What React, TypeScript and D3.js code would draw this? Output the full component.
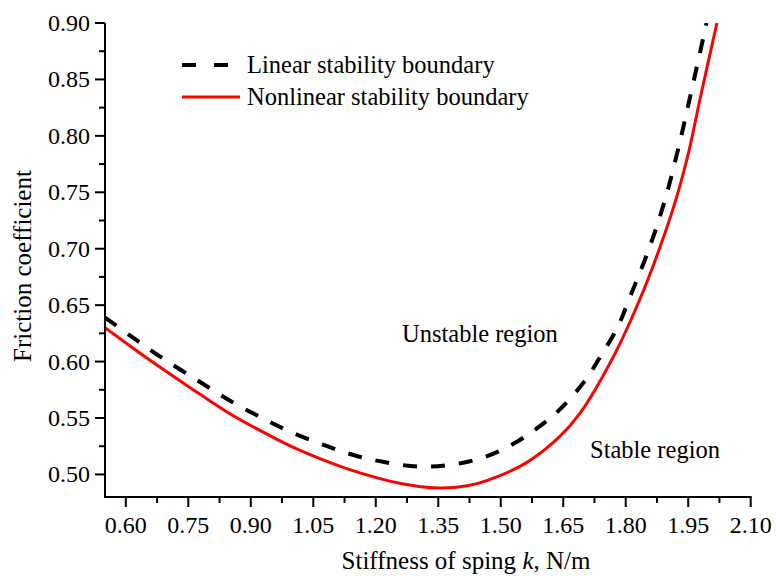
import React from "react";
import * as d3 from "d3";

// linear stability boundary (dashed)
const kLinear = [0.55, 0.62, 0.69, 0.78, 0.86, 0.93, 1.0, 1.08, 1.15, 1.22, 1.3, 1.37, 1.44, 1.51, 1.58, 1.64, 1.7, 1.74, 1.78, 1.81, 1.857, 1.894, 1.925, 1.953, 1.994];
const fLinear = [0.639, 0.6205, 0.6025, 0.5815, 0.5632, 0.5495, 0.537, 0.5255, 0.5168, 0.511, 0.507, 0.508, 0.513, 0.523, 0.539, 0.557, 0.582, 0.605, 0.63, 0.657, 0.701, 0.743, 0.787, 0.832, 0.9];

// nonlinear stability boundary (red)
const kNonlinear = [0.55, 0.63, 0.7, 0.78, 0.86, 0.94, 1.02, 1.13, 1.26, 1.35, 1.42, 1.47, 1.56, 1.64, 1.69, 1.77, 1.836, 1.882, 1.92, 1.952, 1.978, 2.019];
const fNonlinear = [0.63, 0.6085, 0.5905, 0.5705, 0.5515, 0.5355, 0.521, 0.5052, 0.492, 0.488, 0.49, 0.495, 0.51, 0.533, 0.554, 0.604, 0.657, 0.701, 0.743, 0.787, 0.832, 0.9];

const xTicks = [0.6, 0.75, 0.9, 1.05, 1.2, 1.35, 1.5, 1.65, 1.8, 1.95, 2.1];
const yTicks = [0.5, 0.55, 0.6, 0.65, 0.7, 0.75, 0.8, 0.85, 0.9];

const W = 776;
const H = 576;
const FONT = "'Liberation Serif', 'Times New Roman', serif";

const App = () => {
    const x = d3.scaleLinear().domain([0.55, 2.1]).range([105, 750.7]);
    const y = d3.scaleLinear().domain([0.48, 0.9]).range([497, 23]);

    const line = d3
        .line<[number, number]>()
        .x((d) => x(d[0]))
        .y((d) => y(d[1]))
        .curve(d3.curveCatmullRom.alpha(0.5));

    const linPath = line(kLinear.map((k, i) => [k, fLinear[i]]));
    const nonPath = line(kNonlinear.map((k, i) => [k, fNonlinear[i]]));

    const xMinor = xTicks.slice(0, -1).map((t) => t + 0.075);
    const yMinor = yTicks.slice(0, -1).map((t) => t + 0.025);

    return (
        <svg width={W} height={H} style={{position: "absolute", left: 0, top: 0}} fontFamily={FONT}>
            <rect width={W} height={H} fill="#fff" />
            <defs>
                <clipPath id="plot">
                    <rect x={105} y={23} width={650} height={474} />
                </clipPath>
            </defs>

            <g clipPath="url(#plot)">
                <path d={linPath} fill="none" stroke="#000" strokeWidth={4} strokeDasharray="14 14" />
                <path d={nonPath} fill="none" stroke="#ff0000" strokeWidth={3} />
            </g>

            {/* axes */}
            <line x1={x(0.55)} x2={x(0.55)} y1={y(0.48) + 1} y2={y(0.9)} stroke="#000" strokeWidth={2} />
            <line x1={x(0.55) - 1} x2={x(2.1) + 1} y1={y(0.48)} y2={y(0.48)} stroke="#000" strokeWidth={2} />

            {yTicks.map((t) => (
                <g key={"y" + t}>
                    <line x1={105} x2={95} y1={y(t)} y2={y(t)} stroke="#000" strokeWidth={2} />
                    <text x={90} y={y(t) + 8} textAnchor="end" fontSize={24}>
                        {t.toFixed(2)}
                    </text>
                </g>
            ))}
            {yMinor.map((t) => (
                <line key={"ym" + t} x1={105} x2={99} y1={y(t)} y2={y(t)} stroke="#000" strokeWidth={2} />
            ))}

            {xTicks.map((t) => (
                <g key={"x" + t}>
                    <line x1={x(t)} x2={x(t)} y1={497} y2={507} stroke="#000" strokeWidth={2} />
                    <text x={x(t)} y={533} textAnchor="middle" fontSize={24}>
                        {t.toFixed(2)}
                    </text>
                </g>
            ))}
            {xMinor.map((t) => (
                <line key={"xm" + t} x1={x(t)} x2={x(t)} y1={497} y2={503} stroke="#000" strokeWidth={2} />
            ))}

            {/* axis titles */}
            <text x={466} y={569} textAnchor="middle" fontSize={25}>
                Stiffness of sping <tspan fontStyle="italic">k</tspan>, N/m
            </text>
            <text transform="translate(31,266) rotate(-90)" textAnchor="middle" fontSize={25}>
                Friction coefficient
            </text>

            {/* legend */}
            <line x1={182} x2={230} y1={65} y2={65} stroke="#000" strokeWidth={4} strokeDasharray="14 18" />
            <text x={247} y={73} fontSize={24.5}>Linear stability boundary</text>
            <line x1={182} x2={240} y1={97} y2={97} stroke="#ff0000" strokeWidth={3} />
            <text x={247} y={105} fontSize={24.5}>Nonlinear stability boundary</text>

            {/* region labels */}
            <text x={402} y={342} fontSize={24.5}>Unstable region</text>
            <text x={590} y={458} fontSize={24.5}>Stable region</text>
        </svg>
    );
};

export default App;
